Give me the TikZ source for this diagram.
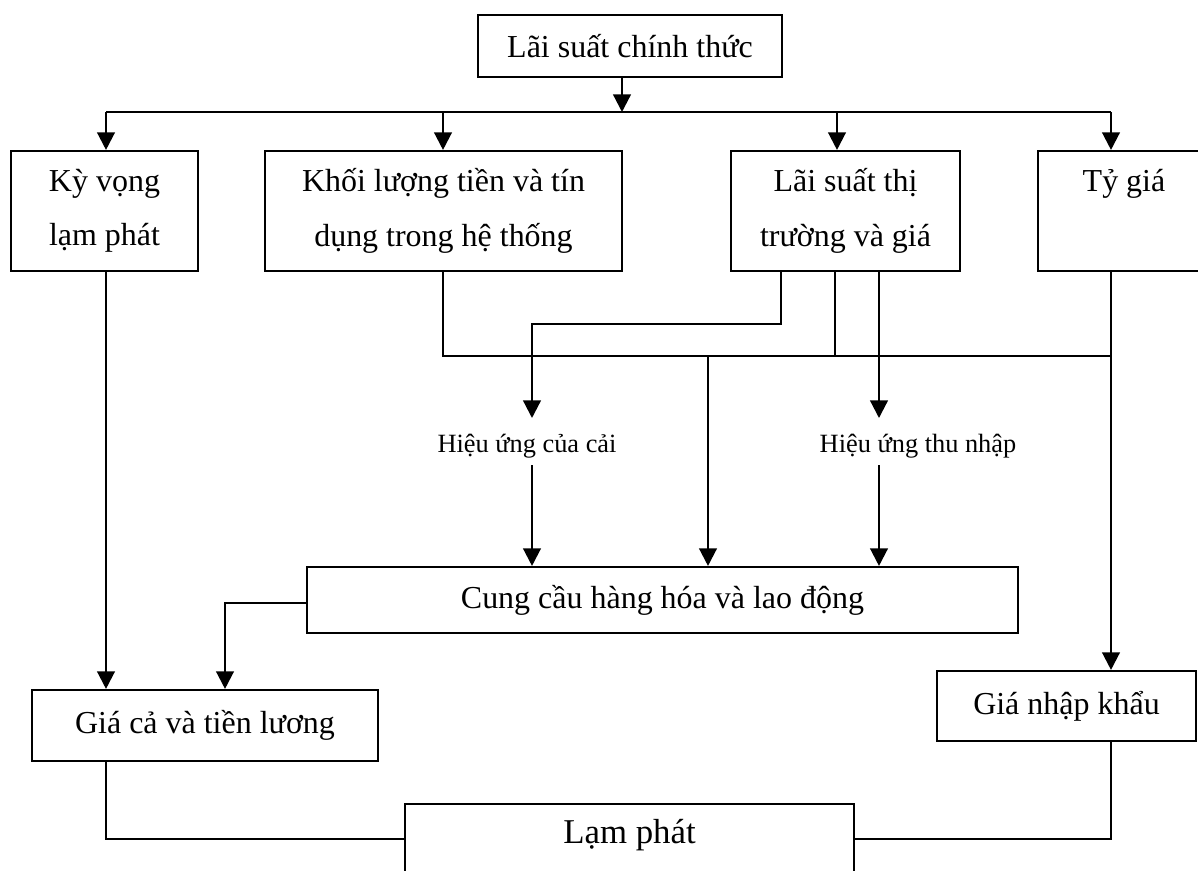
\documentclass[tikz,border=0pt]{standalone}
\usepackage{fontspec}
\setmainfont{Liberation Serif}
\usetikzlibrary{arrows.meta}
\begin{document}
\begin{tikzpicture}[x=0.02cm,y=-0.02cm,
  box/.style={draw,line width=1.2pt,rectangle,inner sep=0pt,align=center,
    font=\fontsize{18.2pt}{31pt}\selectfont},
  lbl/.style={inner sep=0pt,font=\fontsize{15pt}{17pt}\selectfont},
  ln/.style={line width=1pt},
  arr/.style={line width=1.3pt,-{Triangle[width=10pt,length=10pt]}}]
\clip (0,0) rectangle (1198,870);
\fill[white] (0,0) rectangle (1198,870);
% boxes
\node[box,minimum width=304*0.02cm,minimum height=62*0.02cm] (top) at (630,46) {Lãi suất chính thức};
\node[box,minimum width=187*0.02cm,minimum height=120*0.02cm] (ky) at (104.5,211) {Kỳ vọng\\lạm phát};
\node[box,minimum width=357*0.02cm,minimum height=120*0.02cm] (khoi) at (443.5,211) {Khối lượng tiền và tín\\dụng trong hệ thống};
\node[box,minimum width=229*0.02cm,minimum height=120*0.02cm] (ls) at (845.5,211) {Lãi suất thị\\trường và giá};
\node[box,minimum width=172*0.02cm,minimum height=120*0.02cm] (ty) at (1124,211) {Tỷ giá\\\phantom{g}};
\node[box,minimum width=711*0.02cm,minimum height=66*0.02cm] (cung) at (662.5,600) {Cung cầu hàng hóa và lao động};
\node[box,minimum width=346*0.02cm,minimum height=71*0.02cm] (gia) at (205,725.5) {Giá cả và tiền lương};
\node[box,minimum width=259*0.02cm,minimum height=70*0.02cm] (nk) at (1066.5,706) {Giá nhập khẩu};
\node[box,minimum width=449*0.02cm,minimum height=96*0.02cm] (lp) at (629.5,852) {};
\node[inner sep=0pt,anchor=base,font=\fontsize{19.8pt}{22pt}\selectfont] (lpt) at (629.5,843) {Lạm phát};
\node[lbl,anchor=base] (cc) at (527,452) {Hiệu ứng của cải};
\node[lbl,anchor=base] (tn) at (918,452) {Hiệu ứng thu nhập};
% coordinates
\coordinate (j0) at (622,112);
\coordinate (b1) at (106,112);
\coordinate (b2) at (443,112);
\coordinate (b3) at (837,112);
\coordinate (b4) at (1111,112);
\coordinate (h1) at (443,356);
\coordinate (h2) at (1111,356);
\coordinate (h3) at (835,356);
\coordinate (h4) at (708,356);
\coordinate (a1) at (781,324);
\coordinate (a2) at (532,324);
\coordinate (a3) at (532,418);
\coordinate (a4) at (532,465);
\coordinate (t1) at (879,418);
\coordinate (t2) at (879,465);
\coordinate (c1) at (225,603);
\coordinate (g1) at (106,839);
\coordinate (n1) at (1111,839);
% top fan-out
\draw[arr] (top.south -| j0) -- (j0);
\draw[ln] (b1) -- (b4);
\draw[arr] (b1) -- (ky.north -| b1);
\draw[arr] (b2) -- (khoi.north -| b2);
\draw[arr] (b3) -- (ls.north -| b3);
\draw[arr] (b4) -- (ty.north -| b4);
% middle
\draw[ln] (khoi.south -| h1) -- (h1) -- (h2);
\draw[ln] (ls.south -| h3) -- (h3);
\draw[arr] (ls.south -| a1) -- (a1) -- (a2) -- (a3);
\draw[arr] (ls.south -| t1) -- (t1);
\draw[arr] (h4) -- (cung.north -| h4);
\draw[arr] (a4) -- (cung.north -| a4);
\draw[arr] (t2) -- (cung.north -| t2);
\draw[arr] (ty.south -| b4) -- (nk.north -| b4);
% lower
\draw[arr] (cung.west |- c1) -- (c1) -- (gia.north -| c1);
\draw[arr] (ky.south -| b1) -- (gia.north -| b1);
\draw[ln] (gia.south -| g1) -- (g1) -- (lp.west |- g1);
\draw[ln] (nk.south -| n1) -- (n1) -- (lp.east |- n1);
\end{tikzpicture}
\end{document}
